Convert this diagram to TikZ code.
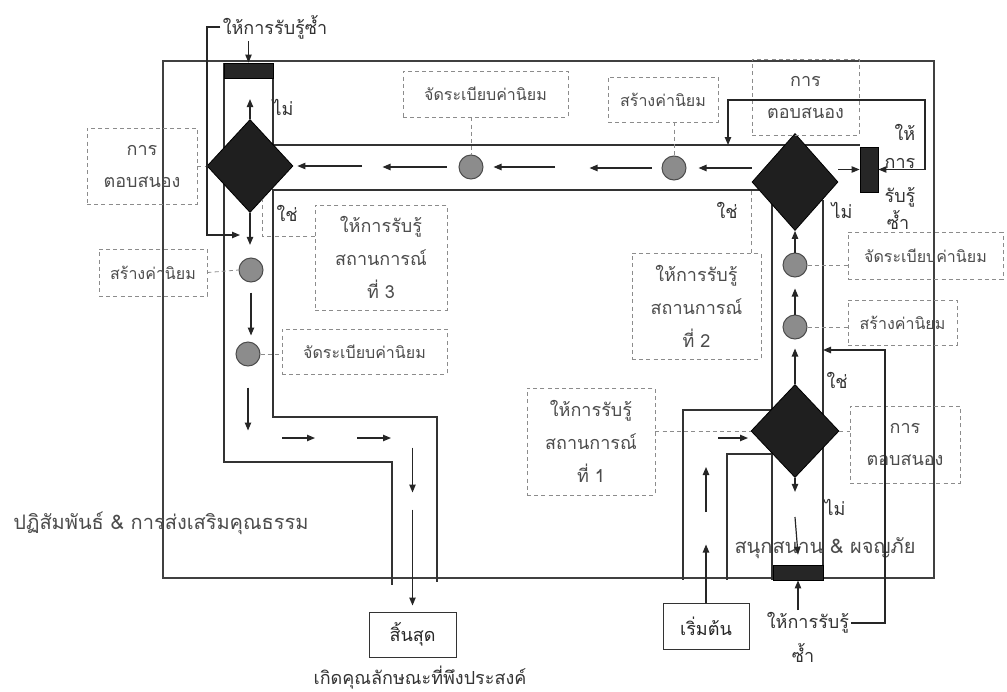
\documentclass[tikz,border=0pt]{standalone}
\usepackage{fontspec}
\newfontfamily\thai[Script=Thai]{Loma}
\usetikzlibrary{shapes.geometric,arrows.meta}
\begin{document}
\begin{tikzpicture}[x=0.5pt,y=-0.5pt,
  frame/.style={draw=black!75, line width=0.55pt},
  lane/.style={draw=black!80, line width=0.6pt},
  arr/.style={draw=black!85, line width=0.6pt, -{Triangle[length=4pt,width=3.2pt]}},
  dbl/.style={draw=black!85, line width=0.6pt, {Triangle[length=4pt,width=3.2pt]}-{Triangle[length=4pt,width=3.2pt]}},
  dbox/.style={draw=black!45, dash pattern=on 2pt off 1.6pt, line width=0.4pt, inner sep=0pt, font=\thai\fontsize{8}{12}\selectfont, text=black!70, align=center},
  tbox/.style={font=\thai\fontsize{9}{16}\selectfont},
  sbox/.style={font=\thai\fontsize{9}{16.5}\selectfont},
  dlink/.style={draw=black!45, dash pattern=on 2pt off 1.6pt, line width=0.4pt},
  dia/.style={diamond, fill=black!88, draw=black, inner sep=0pt},
  dot/.style={circle, fill=black!45, draw=black!70, line width=0.5pt, minimum size=12pt, inner sep=0pt},
  bar/.style={rectangle, fill=black!85, draw=black, inner sep=0pt},
  lbl/.style={font=\thai\fontsize{9}{12}\selectfont, text=black!80, inner sep=1pt},
  big/.style={font=\thai\fontsize{10}{13}\selectfont, text=black!70, inner sep=1pt},
  term/.style={draw=black!80, line width=0.5pt, inner sep=0pt, font=\thai\fontsize{9}{12}\selectfont, text=black!85}
]
\useasboundingbox (0,0) rectangle (1007,691);
\fill[white] (0,0) rectangle (1007,691);

% frame and lanes
\draw[frame] (163,61) rectangle (934,578);
\draw[lane] (224,63) -- (224,462) -- (392,462) -- (392,585);
\draw[lane] (273,63) -- (273,145) -- (860,145);
\draw[lane] (759,190) -- (273,190) -- (273,417) -- (437,417) -- (437,582);
\draw[lane] (772,200) -- (772,580);
\draw[lane] (823,200) -- (823,580);
\draw[lane] (771,410) -- (683,410) -- (683,580);
\draw[lane] (772,454) -- (727,454) -- (727,580);

% decision diamonds, value circles, bars
\node[dia, minimum width=43pt, minimum height=46.5pt] (D1) at (250,166) {};
\node[dia, minimum width=43pt, minimum height=48.5pt] (D2) at (795,182) {};
\node[dia, minimum width=44pt, minimum height=46.5pt] (D3) at (795,431) {};
\node[dot] (c1) at (471,167) {};
\node[dot] (c2) at (674,168) {};
\node[dot] (c3) at (251,270) {};
\node[dot] (c4) at (248,354) {};
\node[dot] (c5) at (795,265) {};
\node[dot] (c6) at (795,327) {};
\node[bar, minimum width=24.5pt, minimum height=7.5pt] (b1) at (248.5,70.5) {};
\node[bar, minimum width=25pt, minimum height=7.5pt] (b2) at (798,572.5) {};
\node[bar, minimum width=9pt, minimum height=22.5pt] (b3) at (869,169.5) {};

% terminals
\node[term, minimum width=43pt, minimum height=23pt] (start) at (706,626) {เริ่มต้น};
\node[term, minimum width=43.5pt, minimum height=22.5pt] (fin) at (412.5,634.5) {สิ้นสุด};

% dashed label boxes
\node[dbox, minimum width=82.5pt, minimum height=23pt] (Bj1) at (485.5,94) {จัดระเบียบค่านิยม};
\node[dbox, minimum width=55pt, minimum height=22.5pt] (Bs1) at (663,99.5) {สร้างค่านิยม};
\node[dbox, tbox, minimum width=53.5pt, minimum height=38pt] (Bt1) at (805.5,97) {การ\\ตอบสนอง};
\node[dbox, sbox, minimum width=66pt, minimum height=52.5pt] (S3) at (381,257.5) {ให้การรับรู้\\สถานการณ์\\ที่ 3};
\node[dbox, minimum width=54pt, minimum height=23.5pt] (Bs2) at (153,272.5) {สร้างค่านิยม};
\node[dbox, minimum width=82.5pt, minimum height=22.5pt] (Bj2) at (364.5,351.5) {จัดระเบียบค่านิยม};
\node[dbox, minimum width=77.5pt, minimum height=23.5pt] (Bj3) at (925.5,255.5) {จัดระเบียบค่านิยม};
\node[dbox, minimum width=54.5pt, minimum height=22.5pt] (Bs3) at (902.5,322.5) {สร้างค่านิยม};
\node[dbox, tbox, minimum width=55pt, minimum height=38.5pt] (Bt3) at (905,444.5) {การ\\ตอบสนอง};
\node[dbox, sbox, minimum width=64pt, minimum height=53.5pt] (S1) at (591,441.5) {ให้การรับรู้\\สถานการณ์\\ที่ 1};
\node[dbox, sbox, minimum width=64.5pt, minimum height=53pt] (S2) at (696.5,306) {ให้การรับรู้\\สถานการณ์\\ที่ 2};
\node[dbox, tbox, minimum width=55pt, minimum height=38pt] (Bt2) at (142,166) {การ\\ตอบสนอง};

% dashed links
\draw[dlink] (c1 |- Bj1.south) -- (c1.north);
\draw[dlink] (c2 |- Bs1.south) -- (c2.north);
\draw[dlink] ([yshift=10.75pt]S3.west) -| (262,200);
\draw[dlink] ([xshift=27.25pt]S2.north) -- ++(0,-62);
\draw[dlink] (Bs2.east) -- (c3.west);
\draw[dlink] (c4.east) -- (Bj2.west |- c4);
\draw[dlink] (c5.east) -- (Bj3.west |- c5);
\draw[dlink] (c6.east) -- (Bs3.west |- c6);
\draw[dlink] (D3.east) -- (Bt3.west |- D3);
\draw[dlink] (S1.east |- D3) -- (D3.west);
\draw[dlink] (Bt2.east) -- (D1.west);

% text labels
\node[lbl] (tt) at (275,27) {ให้การรับรู้ซ้ำ};
\node[lbl] (tb1) at (808,623) {ให้การรับรู้};
\node[lbl] (tb2) at (803,653) {ซ้ำ};
\node[lbl] (r1) at (905,132) {ให้};
\node[lbl] (r2) at (900,163) {การ};
\node[lbl] (r3) at (900,197) {รับรู้};
\node[lbl] (r4) at (898,220) {ซ้ำ};
\node[lbl] (n1) at (283,107) {ไม่};
\node[lbl] (y1) at (287,213) {ใช่};
\node[lbl] (y2) at (727,210) {ใช่};
\node[lbl] (n2) at (842,210) {ไม่};
\node[lbl] (y3) at (837,380) {ใช่};
\node[lbl] (n3) at (835,507) {ไม่};
\node[lbl] (res) at (420,678) {เกิดคุณลักษณะที่พึงประสงค์};
\node[big] (L1) at (161,523) {ปฏิสัมพันธ์ \& การส่งเสริมคุณธรรม};
\node[big] (L2) at (825,548) {สนุกสนาน \& ผจญภัย};

% left lane arrows
\draw[arr] (D1.north) -- ++(0,-20);
\draw[arr] (tt.south -| b1) -- (b1.north);
\draw[arr] (tt.west) -| (207,235) -- (240,235);
\draw[arr] (D1.south) -- ++(0,32);
\draw[arr] ([yshift=-5pt]c3.south) -- ++(0,43);
\draw[arr] ([yshift=-10.5pt]c4.south) -- ++(0,43);
\draw[arr] (282,438) -- ++(33,0);
\draw[arr] (357,438) -- ++(34,0);
\draw[arr] ([yshift=82pt]fin.north) -- ([yshift=59.5pt]fin.north);
\draw[arr] ([yshift=51pt]fin.north) -- ([yshift=3pt]fin.north);

% top corridor arrows
\draw[arr] (D2.west |- c2) -- ([xshift=6pt]c2.east);
\draw[arr] ([xshift=-5pt]c2.west) -- ++(-62,0);
\draw[arr] (555,167) -- ([xshift=5pt]c1.east);
\draw[arr] ([xshift=-6pt]c1.west) -- ++(-64,0);
\draw[arr] (362,166) -- ([xshift=2pt]D1.east);
\draw[arr] (D2.east |- b3.west) -- (b3.west);
\coordinate (tl) at (728,145);
\draw[dbl] (tl) |- (925,100) |- (b3.east);

% right lane arrows
\draw[arr] (D3.north) -- ([yshift=-4.5pt]c6.south);
\draw[arr] (c6.north) -- ([yshift=-5.5pt]c5.south);
\draw[arr] (c5.north) -- (D2.south);
\draw[arr] (D3.south) -- ++(0,14);
\draw[arr] (795,517) -- ([yshift=5pt]b2.north);
\draw[arr] (b2 |- tb1.north) -- (b2.south);
\coordinate (rl) at (823,350);
\draw[arr] (tb1.east) -- (885,623) |- (rl);
\draw[arr] (718,438) -- (748,438);
\draw[arr] (706,512) -- ++(0,-45);
\draw[arr] (start.north) -- ++(0,-58);
\end{tikzpicture}
\end{document}
